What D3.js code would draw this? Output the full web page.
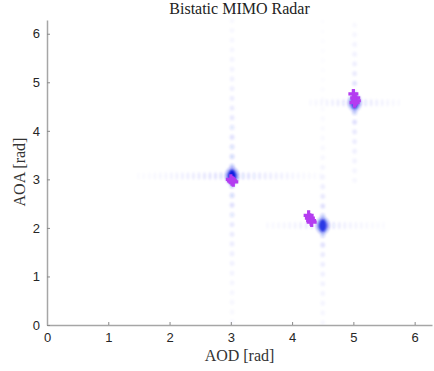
<!DOCTYPE html>
<html><head><meta charset="utf-8">
<script src="https://cdn.jsdelivr.net/npm/d3@7"></script>
<style>body{margin:0;background:#fff}svg{display:block}</style>
</head><body>
<svg id="c" width="434" height="371"></svg>
<script>
// ---- data ----
const xTicks = [0,1,2,3,4,5,6];
const yTicks = [0,1,2,3,4,5,6];
const title = "Bistatic MIMO Radar";
const xLabel = "AOD [rad]";
const yLabel = "AOA [rad]";
// true target positions (AOD, AOA) and peak strengths
const targetAOD = [3.02, 4.50, 5.02];
const targetAOA = [3.07, 2.05, 4.58];
const peakLevel = [1.0, 0.85, 0.75];
// sidelobe step sizes (rad)
const vStep = 0.2, hStep = 0.09;
// sidelobe levels read outward from each peak
const lobesUp = [
  [0.55,0.4,0.32,0.28,0.25,0.22,0.2,0.18,0.16,0.14,0.12,0.11,0.1,0.09,0.08,0.07],
  [0.45,0.3,0.22,0.16,0.12,0.1,0.08,0.07,0.06,0.05,0.05,0.04,0.04,0.04,0.03,0.03,0.03,0.03,0.03,0.02,0.02],
  [0.4,0.28,0.2,0.16,0.13,0.11,0.09,0.07]
];
const lobesDown = [
  [0.55,0.38,0.3,0.26,0.22,0.2,0.18,0.16,0.14,0.12,0.1,0.09,0.08,0.07,0.06],
  [0.4,0.28,0.2,0.17,0.15,0.13,0.11,0.1,0.09,0.08],
  [0.45,0.3,0.22,0.18,0.15,0.12,0.1,0.08]
];
const lobesLeft = [
  [0.45,0.35,0.3,0.28,0.25,0.22,0.2,0.18,0.16,0.14,0.12,0.1,0.09,0.08,0.06,0.05,0.04],
  [0.35,0.25,0.2,0.16,0.13,0.11,0.09,0.08,0.07,0.06],
  [0.35,0.25,0.2,0.16,0.13,0.1,0.08,0.06]
];
const lobesRight = [
  [0.45,0.35,0.3,0.27,0.24,0.21,0.19,0.17,0.15,0.13,0.11,0.09,0.08,0.07,0.06,0.05],
  [0.35,0.25,0.2,0.16,0.13,0.11,0.09,0.08,0.07,0.06,0.05],
  [0.35,0.25,0.2,0.16,0.13,0.1,0.08,0.06]
];
// estimated positions (AOD, AOA) from repeated trials
const estAOD = [3.02, 3.00, 3.04, 4.27, 4.29, 4.31, 4.32, 5.00, 5.03, 5.04, 5.02];
const estAOA = [2.97, 3.00, 2.95, 2.26, 2.20, 2.15, 2.12, 4.76, 4.68, 4.62, 4.58];

// ---- chart ----
const svg = d3.select("#c");
const x = d3.scaleLinear().domain([0, 2*Math.PI]).range([47, 432]);
const y = d3.scaleLinear().domain([0, 2*Math.PI]).range([325, 20]);
const base = d3.color("rgb(20,35,235)");

const defs = svg.append("defs");
defs.append("filter").attr("id","blur").attr("x","-50%").attr("y","-50%").attr("width","200%").attr("height","200%")
  .append("feGaussianBlur").attr("stdDeviation", 0.9);

// build lobe list
const lobes = [];
targetAOD.forEach((ax, i) => {
  const ay = targetAOA[i];
  lobesUp[i].forEach((v,k)=>lobes.push({x:ax, y:ay+(k+1)*vStep, v, dir:"v"}));
  lobesDown[i].forEach((v,k)=>lobes.push({x:ax, y:ay-(k+1)*vStep, v, dir:"v"}));
  lobesLeft[i].forEach((v,k)=>lobes.push({x:ax-(k+1)*hStep, y:ay, v, dir:"h"}));
  lobesRight[i].forEach((v,k)=>lobes.push({x:ax+(k+1)*hStep, y:ay, v, dir:"h"}));
});
const heat = svg.append("g").attr("filter","url(#blur)");
heat.selectAll("ellipse.lobe").data(lobes.filter(d=>d.y>=0 && d.y<=2*Math.PI && d.x>=0)).join("ellipse")
  .attr("class","lobe")
  .attr("cx", d=>x(d.x)).attr("cy", d=>y(d.y))
  .attr("rx", d=>d.dir==="v"?2.4:1.5).attr("ry", d=>d.dir==="v"?2.6:3.8)
  .attr("fill", base).attr("fill-opacity", d=>d.v*0.4);
// peaks
const peaks = targetAOD.map((ax,i)=>({x:ax, y:targetAOA[i], v:peakLevel[i]}));
heat.selectAll("ellipse.halo").data(peaks).join("ellipse").attr("class","halo")
  .attr("cx", d=>x(d.x)).attr("cy", d=>y(d.y)).attr("rx", 7).attr("ry", 9)
  .attr("fill", base).attr("fill-opacity", d=>d.v*0.3);
heat.selectAll("ellipse.peak").data(peaks).join("ellipse").attr("class","peak")
  .attr("cx", d=>x(d.x)).attr("cy", d=>y(d.y)).attr("rx", 4).attr("ry", 6.5)
  .attr("fill", "rgb(15,30,225)").attr("fill-opacity", d=>d.v);

// estimates as plus markers
const est = estAOD.map((a,i)=>({x:a, y:estAOA[i]}));
const mg = svg.append("g").attr("stroke","#b43cf0").attr("stroke-width",3.2).attr("stroke-linecap","butt");
mg.selectAll("path").data(est).join("path")
  .attr("d", d=>{const cx=x(d.x), cy=y(d.y); return `M${cx-5},${cy}H${cx+5}M${cx},${cy-5}V${cy+5}`;});

// axes
const fmt = d3.format("d");
const gx = svg.append("g").attr("transform","translate(0,325)")
  .call(d3.axisBottom(x).tickValues(xTicks).tickFormat(fmt).tickSizeInner(-3).tickSizeOuter(0).tickPadding(8));
const gy = svg.append("g").attr("transform","translate(47,0)")
  .call(d3.axisLeft(y).tickValues(yTicks).tickFormat(fmt).tickSizeInner(-3).tickSizeOuter(0).tickPadding(7));
[gx,gy].forEach(g=>{
  g.attr("font-family","Liberation Sans, Arial, sans-serif").attr("font-size",13);
  g.select(".domain").attr("stroke","#a6a6a6").attr("stroke-width",1.5);
  g.selectAll(".tick line").attr("stroke","#8a8a8a");
  g.selectAll(".tick text").attr("fill","#262626");
});

svg.append("text").attr("x",239.5).attr("y",14).attr("text-anchor","middle")
  .attr("font-family","Liberation Serif, serif").attr("font-size",16).attr("fill","#222").text(title);
svg.append("text").attr("x",239.5).attr("y",361).attr("text-anchor","middle")
  .attr("font-family","Liberation Serif, serif").attr("font-size",16).attr("fill","#333").text(xLabel);
svg.append("text").attr("transform","translate(25,172) rotate(-90)").attr("text-anchor","middle")
  .attr("font-family","Liberation Serif, serif").attr("font-size",16).attr("fill","#333").text(yLabel);
</script>
</body></html>
